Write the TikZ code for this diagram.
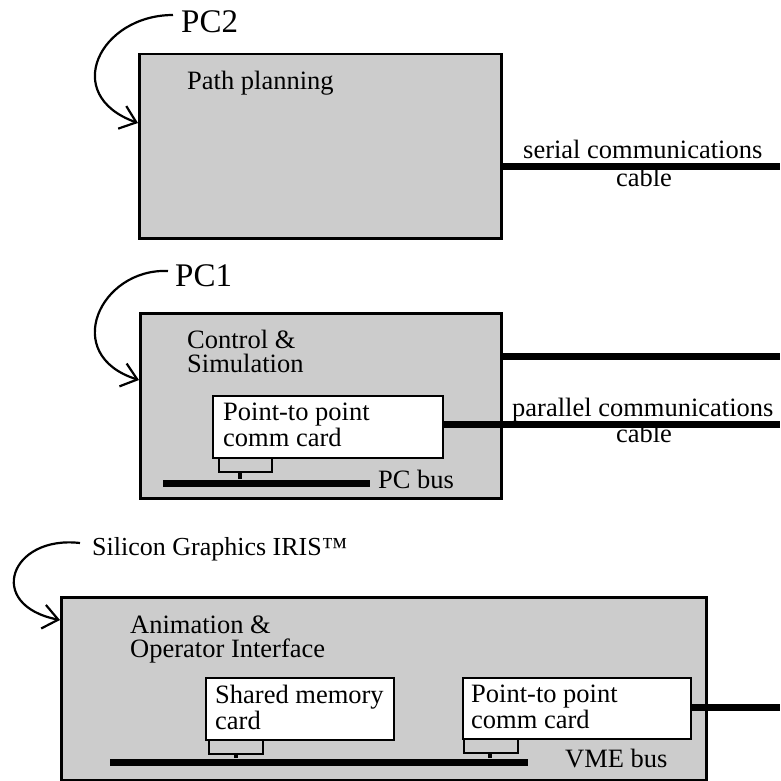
\documentclass[tikz,border=0pt]{standalone}
\usepackage{fontspec}
\setmainfont{Liberation Serif}
\usetikzlibrary{arrows.meta}
\definecolor{dotgray}{gray}{0.80}
\begin{document}
\begin{tikzpicture}[x=1pt,y=-1pt,
  box/.style={draw=black, line width=2.5pt, fill=dotgray, inner sep=0pt, anchor=north west},
  card/.style={draw=black, line width=2.2pt, fill=white, inner sep=0pt, anchor=north west},
  conn/.style={draw=black, line width=1.8pt, fill=dotgray, inner sep=0pt, anchor=north west},
  busbar/.style={fill=black, draw=none, inner sep=0pt, minimum height=7pt, anchor=west},
  cablew/.style={line width=7pt},
  stem/.style={line width=4pt},
  lbl/.style={font=\fontsize{26.5}{24}\selectfont, inner sep=0pt, align=left, anchor=base west},
  big/.style={font=\fontsize{33}{33}\selectfont, inner sep=0pt, anchor=base west},
  pointer/.style={line width=2.2pt, -{Straight Barb[length=15pt,width=24pt,line width=2.2pt]}}
]
\useasboundingbox (0,0) rectangle (780,781);

% ---------- PC2 ----------
\node[box, minimum width=362pt, minimum height=184pt] (pc2) at (138,53) {};
\node[big] (pc2lbl) at (181,33) {PC2};
\node[lbl] (pathplan) at (187,90) {Path planning};
\coordinate (serialEnd) at (780,166);
\draw[cablew] (pc2.east |- serialEnd) -- (serialEnd);
\node[lbl] (serialtxt) at (523,158) {serial communications};
\node[lbl, anchor=base] (serialcable) at (644,186) {cable};
\draw[pointer] (pc2lbl.west |- 0,15) ++(-8,0) coordinate (pc2arc)
  .. controls (100,15) and (60,95) .. (pc2.west |- 0,123);

% ---------- PC1 ----------
\node[box, minimum width=361pt, minimum height=185pt] (pc1) at (139,312) {};
\node[big] (pc1lbl) at (175,286) {PC1};
\node[lbl] (ctrl) at (187,372) {Control \&\\Simulation};
\coordinate (pc1End) at (780,356);
\draw[cablew] (pc1.east |- pc1End) -- (pc1End);
\node[card, minimum width=230pt, minimum height=62pt] (card1) at (212,395) {};
\node[lbl] (card1txt) at (223,446) {Point-to point\\comm card};
\node[conn, minimum width=53pt, minimum height=14pt] (conn1) at (218,457) {};
\node[busbar, minimum width=207pt] (bus1) at (163,483) {};
\draw[stem] (240,471) -- (bus1.north -| 240,0);
\node[lbl] (pcbus) at (378,488) {PC bus};
\coordinate (parEnd) at (780,424);
\draw[cablew] (card1.east |- parEnd) -- (parEnd);
\node[lbl] (partxt) at (512,416) {parallel communications};
\node[lbl, anchor=base] (parcable) at (644,442) {cable};
\draw[pointer] (168,271) .. controls (100,268) and (60,355) .. (pc1.west |- 0,380);

% ---------- Silicon Graphics ----------
\node[box, minimum width=645pt, minimum height=183pt] (sgi) at (60,596) {};
\node[big, font=\fontsize{26}{26}\selectfont] (sgilbl) at (92,555) {Silicon Graphics IRIS™};
\node[lbl] (anim) at (130,657) {Animation \&\\Operator Interface};
\node[card, minimum width=188pt, minimum height=62pt] (card2) at (205,677) {};
\node[lbl] (card2txt) at (215,729) {Shared memory\\card};
\node[conn, minimum width=54pt, minimum height=14pt] (conn2) at (208,739) {};
\node[card, minimum width=228pt, minimum height=61pt] (card3) at (462,677) {};
\node[lbl] (card3txt) at (471,728) {Point-to point\\comm card};
\node[conn, minimum width=54pt, minimum height=14pt] (conn3) at (463,738) {};
\node[busbar, minimum width=418pt] (bus2) at (110,762) {};
\draw[stem] (236,753) -- (bus2.north -| 236,0);
\draw[stem] (490,752) -- (bus2.north -| 490,0);
\node[lbl] (vmebus) at (565,767) {VME bus};
\coordinate (sgiEnd) at (780,707);
\draw[cablew] (card3.east |- sgiEnd) -- (sgiEnd);
\draw[pointer] (80,543) .. controls (10,535) and (-15,605) .. (sgi.west |- 0,620);
\end{tikzpicture}
\end{document}
